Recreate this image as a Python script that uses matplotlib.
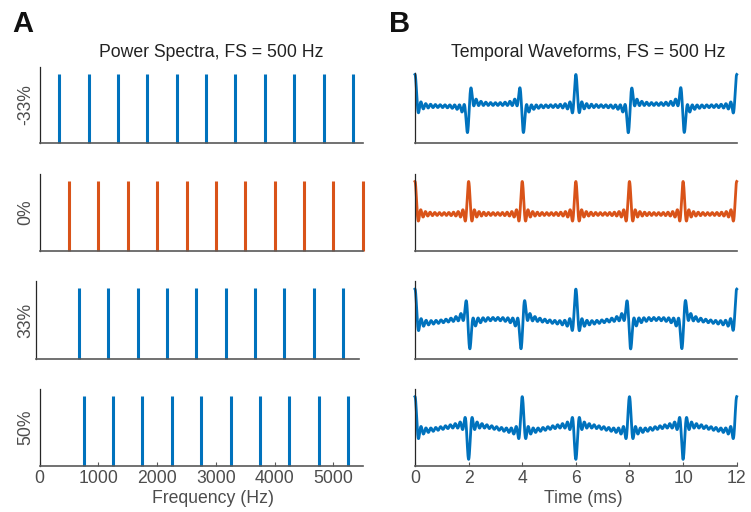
import numpy as np
import matplotlib
matplotlib.use("Agg")
import matplotlib.pyplot as plt

# --- 1. DATA ---
SHIFT_LABELS = ['-33%', '0%', '33%', '50%']

# spectral components of each harmonic complex, in Hz
FREQS_M33 = [333, 833, 1333, 1833, 2333, 2833, 3333, 3833, 4333, 4833, 5333]
FREQS_0 = [500, 1000, 1500, 2000, 2500, 3000, 3500, 4000, 4500, 5000, 5500]
FREQS_33 = [667, 1167, 1667, 2167, 2667, 3167, 3667, 4167, 4667, 5167]
FREQS_50 = [750, 1250, 1750, 2250, 2750, 3250, 3750, 4250, 4750, 5250]
ALL_FREQS = [FREQS_M33, FREQS_0, FREQS_33, FREQS_50]

FREQ_TICKS = [0, 1000, 2000, 3000, 4000, 5000]
TIME_TICKS = [0, 2, 4, 6, 8, 10, 12]

BLUE = '#0072BD'
ORANGE = '#D95319'
ROW_COLORS = [BLUE, ORANGE, BLUE, BLUE]

# --- 2. LAYOUT (pixels of a 751 x 512 canvas) ---
W, H = 751, 512
ROWS = [(66.7, 143.3), (173.7, 250.5), (281.2, 359.0), (388.8, 466.3)]
LEFT_X = [39.7, 39.7, 35.7, 39.7]
LEFT_W = 323.0
RIGHT_X, RIGHT_W = 415.0, 321.7

FONT = ['Liberation Sans', 'DejaVu Sans']
FS = 12.7
TXT = '#4d4d4d'
AX_DARK = '#262626'
AX_GREY = '#595959'


def box(x, top, w, bottom):
    return [x / W, 1 - bottom / H, w / W, (bottom - top) / H]


def style(ax, last_row):
    for s in ['top', 'right']:
        ax.spines[s].set_visible(False)
    ax.spines['left'].set_color(AX_DARK)
    ax.spines['left'].set_linewidth(0.9)
    ax.spines['bottom'].set_color(AX_GREY)
    ax.spines['bottom'].set_linewidth(1.2)
    ax.set_yticks([])
    if last_row:
        ax.tick_params(axis='x', direction='in', length=3, width=0.8,
                       color=AX_GREY, labelcolor=TXT, labelsize=FS, pad=2.5)
    else:
        ax.set_xticks([])


def make_figure():
    plt.rcParams['font.family'] = FONT
    fig = plt.figure(figsize=(W / 100, H / 100), dpi=100)

    t_ms = np.linspace(0, 12, 4001)

    for i, freqs in enumerate(ALL_FREQS):
        top, bottom = ROWS[i]
        last = i == len(ALL_FREQS) - 1
        color = ROW_COLORS[i]

        # --- A: power spectra (one line per component) ---
        axl = fig.add_axes(box(LEFT_X[i], top, LEFT_W, bottom))
        axl.vlines(freqs, 0, 1, color=color, lw=2.2, clip_on=False)
        axl.set_ylim(0, 1.1)
        if i == 2:
            # this row's frame sits a few pixels left in the original
            off = (LEFT_X[0] - LEFT_X[i]) / LEFT_W * 5500
            axl.set_xlim(-off, 5500 - off)
        else:
            axl.set_xlim(0, 5500)
        style(axl, last)
        if last:
            axl.set_xticks(FREQ_TICKS)

        # --- B: temporal waveform = sum of the same components ---
        axr = fig.add_axes(box(RIGHT_X, top, RIGHT_W, bottom))
        wave = np.zeros_like(t_ms)
        for f in freqs:
            wave += np.cos(2 * np.pi * f * t_ms / 1000.0)
        wave /= len(freqs)
        axr.plot(t_ms, wave, color=color, lw=2.0, clip_on=False)
        axr.set_xlim(0, 12)
        axr.set_ylim(-1.22, 1.25)
        style(axr, last)
        if i == 0:
            axr.spines['left'].set_bounds(-1.22, 1.06)
        if last:
            axr.set_xticks(TIME_TICKS)

        # row label
        fig.text(25.5 / W, 1 - (top + bottom) / 2 / H, SHIFT_LABELS[i],
                 rotation=90, ha='center', va='center', fontsize=FS, color=TXT)

    # titles, axis labels, panel letters
    fig.text(211.7 / W, 1 - 56.7 / H, 'Power Spectra, FS = 500 Hz',
             ha='center', va='baseline', fontsize=FS, color='#222222')
    fig.text(588.0 / W, 1 - 56.7 / H, 'Temporal Waveforms, FS = 500 Hz',
             ha='center', va='baseline', fontsize=FS, color='#222222')
    fig.text(212.5 / W, 1 - 503.0 / H, 'Frequency (Hz)',
             ha='center', va='baseline', fontsize=FS, color=TXT)
    fig.text(583.0 / W, 1 - 503.0 / H, 'Time (ms)',
             ha='center', va='baseline', fontsize=FS, color=TXT)
    fig.text(12.5 / W, 1 - 32.3 / H, 'A', ha='left', va='baseline',
             fontsize=21, fontweight='bold', color='#111111')
    fig.text(389.5 / W, 1 - 32.3 / H, 'B', ha='left', va='baseline',
             fontsize=21, fontweight='bold', color='#111111')

    fig.savefig('out.png', dpi=100)


if __name__ == "__main__":
    make_figure()
